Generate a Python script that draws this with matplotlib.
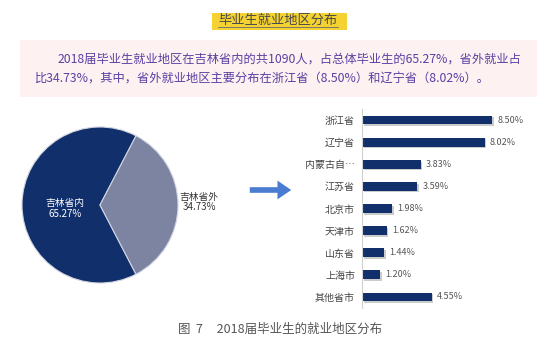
import matplotlib.pyplot as plt
from matplotlib.patches import Rectangle, FancyArrowPatch
import matplotlib.patheffects as pe

plt.rcParams['font.family'] = ['Noto Sans CJK SC', 'DejaVu Sans']

# dados
pie_labels = ['吉林省内', '吉林省外']
pie_values = [65.27, 34.73]

regions = ['浙江省', '辽宁省', '内蒙古自…', '江苏省', '北京市', '天津市', '山东省', '上海市', '其他省市']
shares = [8.50, 8.02, 3.83, 3.59, 1.98, 1.62, 1.44, 1.20, 4.55]

W, H = 554, 353
fig = plt.figure(figsize=(W / 100, H / 100), dpi=100)
fig.patch.set_facecolor('white')


def fx(px):
    return px / W


def fy(py):
    return 1 - py / H


# titulo com destaque amarelo
fig.add_artist(Rectangle((fx(212), fy(30)), fx(135), 17 / H, transform=fig.transFigure,
                         facecolor='#f3d232', edgecolor='none'))
fig.text(fx(278), fy(20), '毕业生就业地区分布', ha='center', va='center', fontsize=9.5, color='#4a4a4a')
fig.add_artist(plt.Line2D([fx(218), fx(338)], [fy(27), fy(27)], transform=fig.transFigure,
                          color='#6a6a6a', lw=0.6))

# caixa rosa com o texto
fig.add_artist(Rectangle((fx(20), fy(97)), fx(517), 57 / H, transform=fig.transFigure,
                         facecolor='#fdf1f1', edgecolor='none'))
txt_color = '#5b3fa3'
fig.text(fx(58), fy(59), '2018届毕业生就业地区在吉林省内的共1090人，占总体毕业生的65.27%，省外就业占',
         ha='left', va='center', fontsize=8.8, color=txt_color)
fig.text(fx(35), fy(79), '比34.73%，其中，省外就业地区主要分布在浙江省（8.50%）和辽宁省（8.02%）。',
         ha='left', va='center', fontsize=8.8, color=txt_color)

# pizza
cx, cy, r = 100, 205, 78
ax_pie = fig.add_axes([fx(cx - r), fy(cy + r), 2 * r / W, 2 * r / H])
ax_pie.pie(pie_values, colors=['#11306b', '#7d84a2'], startangle=62.5,
           wedgeprops=dict(edgecolor='#d0d4e0', linewidth=0.8))
ax_pie.set_xlim(-1, 1)
ax_pie.set_ylim(-1, 1)
ax_pie.set_aspect('auto')
ax_pie.axis('off')
ax_pie.text(-0.45, -0.04, f'{pie_labels[0]}\n{pie_values[0]:.2f}%', ha='center', va='center',
            fontsize=7, color='white', linespacing=1.1)
fig.text(fx(199), fy(202), f'{pie_labels[1]}\n{pie_values[1]:.2f}%', ha='center', va='center',
         fontsize=7, color='#333333', linespacing=1.1)

# seta
fig.add_artist(FancyArrowPatch((fx(247), fy(190)), (fx(294), fy(190)), transform=fig.transFigure,
                               arrowstyle='simple,head_length=1.1,head_width=1.5,tail_width=0.45',
                               mutation_scale=9, color='#4a7cd2', lw=0))

# barras
ax = fig.add_axes([fx(362), fy(308), fx(153), 199 / H])
ypos = list(range(len(regions)))
bars = ax.barh(ypos, shares, height=0.4, color='#11306b')
for b in bars:
    b.set_path_effects([pe.SimplePatchShadow(offset=(1.2, -1.2), shadow_rgbFace='#999999', alpha=0.5),
                        pe.Normal()])
for y, v in zip(ypos, shares):
    ax.text(v + 0.35, y, f'{v:.2f}%', va='center', ha='left', fontsize=6.5, color='#555555')
ax.set_xlim(0, 10)
ax.set_ylim(len(regions) - 0.5, -0.5)
ax.set_yticks(ypos)
ax.set_yticklabels(regions, fontsize=7.2, color='#444444')
ax.set_xticks([])
ax.tick_params(axis='y', length=0, pad=5)
for s in ['top', 'right', 'bottom']:
    ax.spines[s].set_visible(False)
ax.spines['left'].set_color('#d0d0d0')
ax.patch.set_alpha(0)

# legenda da figura
fig.text(fx(178), fy(329), '图  7     2018届毕业生的就业地区分布', ha='left', va='center',
         fontsize=9, color='#555555')

fig.savefig('out.png', dpi=100)
